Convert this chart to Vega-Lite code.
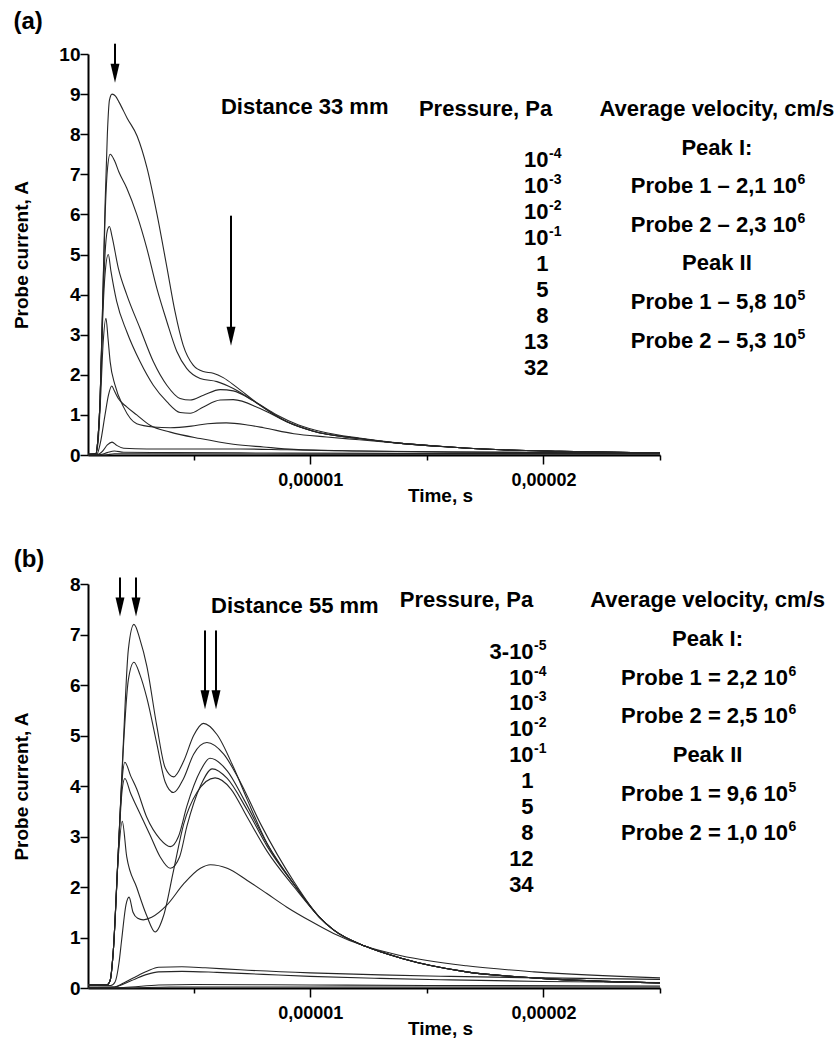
{
  "$schema": "https://vega.github.io/schema/vega-lite/v6.json",
  "padding": {"left": 12, "top": 9, "right": 2, "bottom": 2},
  "spacing": 43,
  "config": {
    "view": {"stroke": null},
    "font": "Liberation Sans",
    "axis": {
      "domainColor": "#000", "domainWidth": 2, "tickColor": "#000", "tickWidth": 1.5,
      "labelFont": "Liberation Sans", "labelFontSize": 18, "labelFontWeight": "bold", "labelColor": "#000",
      "titleFont": "Liberation Sans", "titleFontSize": 19, "titleFontWeight": "bold", "titleColor": "#000",
      "grid": false, "labelOverlap": false, "labelFlush": false
    },
    "text": {"font": "Liberation Sans", "fontWeight": "bold", "fontSize": 22, "color": "#000"}
  },
  "datasets": {
    "curvesA": [
      {"pressure":"1e-4","time":0.47,"current":0.02},{"pressure":"1e-4","time":0.8,"current":0.03},{"pressure":"1e-4","time":0.88,"current":0.3},{"pressure":"1e-4","time":0.99,"current":1.4},{"pressure":"1e-4","time":1.1,"current":3.8},{"pressure":"1e-4","time":1.2,"current":6.2},{"pressure":"1e-4","time":1.3,"current":8.0},{"pressure":"1e-4","time":1.39,"current":8.85},{"pressure":"1e-4","time":1.5,"current":9.0},{"pressure":"1e-4","time":1.65,"current":8.95},{"pressure":"1e-4","time":1.8,"current":8.8},{"pressure":"1e-4","time":2.15,"current":8.4},{"pressure":"1e-4","time":2.58,"current":7.95},{"pressure":"1e-4","time":3.0,"current":7.16},{"pressure":"1e-4","time":3.43,"current":6.0},{"pressure":"1e-4","time":3.86,"current":4.66},{"pressure":"1e-4","time":4.2,"current":3.58},{"pressure":"1e-4","time":4.55,"current":2.74},{"pressure":"1e-4","time":4.98,"current":2.24},{"pressure":"1e-4","time":5.41,"current":2.08},{"pressure":"1e-4","time":5.84,"current":2.04},{"pressure":"1e-4","time":6.27,"current":1.93},{"pressure":"1e-4","time":6.87,"current":1.68},{"pressure":"1e-4","time":7.85,"current":1.24},{"pressure":"1e-4","time":9.0,"current":0.83},{"pressure":"1e-4","time":10.1,"current":0.6},{"pressure":"1e-4","time":12.1,"current":0.41},{"pressure":"1e-4","time":13.9,"current":0.29},{"pressure":"1e-4","time":16,"current":0.2},{"pressure":"1e-4","time":18.2,"current":0.13},{"pressure":"1e-4","time":20.7,"current":0.09},{"pressure":"1e-4","time":25,"current":0.05},
      {"pressure":"1e-3","time":0.47,"current":0.02},{"pressure":"1e-3","time":0.8,"current":0.03},{"pressure":"1e-3","time":0.88,"current":0.3},{"pressure":"1e-3","time":0.99,"current":1.4},{"pressure":"1e-3","time":1.1,"current":3.8},{"pressure":"1e-3","time":1.2,"current":5.9},{"pressure":"1e-3","time":1.3,"current":7.1},{"pressure":"1e-3","time":1.42,"current":7.5},{"pressure":"1e-3","time":1.6,"current":7.35},{"pressure":"1e-3","time":1.8,"current":7.05},{"pressure":"1e-3","time":2.13,"current":6.66},{"pressure":"1e-3","time":2.56,"current":6.0},{"pressure":"1e-3","time":2.99,"current":5.16},{"pressure":"1e-3","time":3.42,"current":4.16},{"pressure":"1e-3","time":3.85,"current":3.33},{"pressure":"1e-3","time":4.28,"current":2.58},{"pressure":"1e-3","time":4.7,"current":2.16},{"pressure":"1e-3","time":5.28,"current":1.91},{"pressure":"1e-3","time":6.0,"current":1.83},{"pressure":"1e-3","time":6.7,"current":1.66},{"pressure":"1e-3","time":7.85,"current":1.24},{"pressure":"1e-3","time":9.0,"current":0.83},{"pressure":"1e-3","time":10.1,"current":0.6},{"pressure":"1e-3","time":12.1,"current":0.41},{"pressure":"1e-3","time":13.9,"current":0.29},{"pressure":"1e-3","time":16,"current":0.2},{"pressure":"1e-3","time":18.2,"current":0.13},{"pressure":"1e-3","time":20.7,"current":0.09},{"pressure":"1e-3","time":25,"current":0.05},
      {"pressure":"1e-2","time":0.47,"current":0.02},{"pressure":"1e-2","time":0.8,"current":0.03},{"pressure":"1e-2","time":0.88,"current":0.3},{"pressure":"1e-2","time":0.99,"current":1.4},{"pressure":"1e-2","time":1.1,"current":3.6},{"pressure":"1e-2","time":1.2,"current":5.0},{"pressure":"1e-2","time":1.3,"current":5.6},{"pressure":"1e-2","time":1.39,"current":5.7},{"pressure":"1e-2","time":1.5,"current":5.45},{"pressure":"1e-2","time":1.77,"current":4.66},{"pressure":"1e-2","time":2.13,"current":4.0},{"pressure":"1e-2","time":2.7,"current":3.16},{"pressure":"1e-2","time":3.27,"current":2.33},{"pressure":"1e-2","time":3.85,"current":1.74},{"pressure":"1e-2","time":4.42,"current":1.41},{"pressure":"1e-2","time":4.85,"current":1.37},{"pressure":"1e-2","time":5.42,"current":1.49},{"pressure":"1e-2","time":6.14,"current":1.63},{"pressure":"1e-2","time":6.7,"current":1.6},{"pressure":"1e-2","time":7.57,"current":1.35},{"pressure":"1e-2","time":8.57,"current":1.0},{"pressure":"1e-2","time":9.5,"current":0.75},{"pressure":"1e-2","time":10.5,"current":0.58},{"pressure":"1e-2","time":12.1,"current":0.42},{"pressure":"1e-2","time":13.9,"current":0.29},{"pressure":"1e-2","time":16,"current":0.2},{"pressure":"1e-2","time":18.2,"current":0.13},{"pressure":"1e-2","time":20.7,"current":0.09},{"pressure":"1e-2","time":25,"current":0.05},
      {"pressure":"1e-1","time":0.47,"current":0.02},{"pressure":"1e-1","time":0.8,"current":0.03},{"pressure":"1e-1","time":0.88,"current":0.3},{"pressure":"1e-1","time":0.99,"current":1.4},{"pressure":"1e-1","time":1.1,"current":3.4},{"pressure":"1e-1","time":1.2,"current":4.5},{"pressure":"1e-1","time":1.34,"current":5.0},{"pressure":"1e-1","time":1.45,"current":4.6},{"pressure":"1e-1","time":1.7,"current":3.83},{"pressure":"1e-1","time":2.13,"current":3.08},{"pressure":"1e-1","time":2.7,"current":2.33},{"pressure":"1e-1","time":3.27,"current":1.74},{"pressure":"1e-1","time":3.85,"current":1.33},{"pressure":"1e-1","time":4.42,"current":1.06},{"pressure":"1e-1","time":4.85,"current":1.04},{"pressure":"1e-1","time":5.42,"current":1.2},{"pressure":"1e-1","time":6.14,"current":1.37},{"pressure":"1e-1","time":6.7,"current":1.38},{"pressure":"1e-1","time":7.85,"current":1.16},{"pressure":"1e-1","time":9.0,"current":0.83},{"pressure":"1e-1","time":10.1,"current":0.6},{"pressure":"1e-1","time":12.1,"current":0.41},{"pressure":"1e-1","time":13.9,"current":0.29},{"pressure":"1e-1","time":16,"current":0.2},{"pressure":"1e-1","time":18.2,"current":0.13},{"pressure":"1e-1","time":20.7,"current":0.09},{"pressure":"1e-1","time":25,"current":0.05},
      {"pressure":"1","time":0.47,"current":0.02},{"pressure":"1","time":0.8,"current":0.03},{"pressure":"1","time":0.9,"current":0.3},{"pressure":"1","time":1.0,"current":1.3},{"pressure":"1","time":1.12,"current":2.8},{"pressure":"1","time":1.24,"current":3.41},{"pressure":"1","time":1.33,"current":2.9},{"pressure":"1","time":1.42,"current":2.33},{"pressure":"1","time":1.63,"current":1.74},{"pressure":"1","time":1.99,"current":1.2},{"pressure":"1","time":2.56,"current":0.78},{"pressure":"1","time":3.27,"current":0.7},{"pressure":"1","time":4.0,"current":0.68},{"pressure":"1","time":4.9,"current":0.72},{"pressure":"1","time":5.6,"current":0.78},{"pressure":"1","time":6.4,"current":0.8},{"pressure":"1","time":7.3,"current":0.75},{"pressure":"1","time":8.0,"current":0.68},{"pressure":"1","time":9.3,"current":0.53},{"pressure":"1","time":10.7,"current":0.45},{"pressure":"1","time":12.1,"current":0.38},{"pressure":"1","time":13.9,"current":0.29},{"pressure":"1","time":16,"current":0.2},{"pressure":"1","time":18.2,"current":0.13},{"pressure":"1","time":20.7,"current":0.09},{"pressure":"1","time":25,"current":0.05},
      {"pressure":"5","time":0.47,"current":0.01},{"pressure":"5","time":0.85,"current":0.02},{"pressure":"5","time":1.0,"current":0.3},{"pressure":"5","time":1.2,"current":1.0},{"pressure":"5","time":1.35,"current":1.5},{"pressure":"5","time":1.49,"current":1.72},{"pressure":"5","time":1.6,"current":1.6},{"pressure":"5","time":1.77,"current":1.41},{"pressure":"5","time":2.13,"current":1.2},{"pressure":"5","time":2.56,"current":1.0},{"pressure":"5","time":3.13,"current":0.74},{"pressure":"5","time":4.0,"current":0.57},{"pressure":"5","time":5.28,"current":0.41},{"pressure":"5","time":6.7,"current":0.27},{"pressure":"5","time":8.0,"current":0.2},{"pressure":"5","time":9.3,"current":0.14},{"pressure":"5","time":12.1,"current":0.1},{"pressure":"5","time":16,"current":0.07},{"pressure":"5","time":20,"current":0.06},{"pressure":"5","time":25,"current":0.05},
      {"pressure":"8","time":0.47,"current":0.01},{"pressure":"8","time":0.9,"current":0.02},{"pressure":"8","time":1.1,"current":0.1},{"pressure":"8","time":1.3,"current":0.25},{"pressure":"8","time":1.5,"current":0.32},{"pressure":"8","time":1.7,"current":0.24},{"pressure":"8","time":2.0,"current":0.17},{"pressure":"8","time":3.0,"current":0.15},{"pressure":"8","time":5.0,"current":0.15},{"pressure":"8","time":7.0,"current":0.15},{"pressure":"8","time":9.0,"current":0.13},{"pressure":"8","time":12,"current":0.1},{"pressure":"8","time":16,"current":0.08},{"pressure":"8","time":20,"current":0.07},{"pressure":"8","time":25,"current":0.06},
      {"pressure":"13","time":0.47,"current":0.0},{"pressure":"13","time":1.0,"current":0.01},{"pressure":"13","time":1.3,"current":0.06},{"pressure":"13","time":1.6,"current":0.1},{"pressure":"13","time":2.0,"current":0.07},{"pressure":"13","time":4,"current":0.06},{"pressure":"13","time":8,"current":0.05},{"pressure":"13","time":14,"current":0.04},{"pressure":"13","time":25,"current":0.04},
      {"pressure":"32","time":0.47,"current":0.0},{"pressure":"32","time":1.2,"current":0.0},{"pressure":"32","time":1.6,"current":0.03},{"pressure":"32","time":3,"current":0.03},{"pressure":"32","time":10,"current":0.02},{"pressure":"32","time":25,"current":0.02}
    ],
    "curvesB": [
      {"pressure":"3e-5","time":0.47,"current":0.07},{"pressure":"3e-5","time":1.3,"current":0.07},{"pressure":"3e-5","time":1.42,"current":0.15},{"pressure":"3e-5","time":1.55,"current":0.7},{"pressure":"3e-5","time":1.77,"current":2.7},{"pressure":"3e-5","time":1.98,"current":4.8},{"pressure":"3e-5","time":2.2,"current":6.7},{"pressure":"3e-5","time":2.44,"current":7.2},{"pressure":"3e-5","time":2.7,"current":6.9},{"pressure":"3e-5","time":2.99,"current":6.38},{"pressure":"3e-5","time":3.42,"current":5.19},{"pressure":"3e-5","time":3.78,"current":4.36},{"pressure":"3e-5","time":4.14,"current":4.18},{"pressure":"3e-5","time":4.57,"current":4.49},{"pressure":"3e-5","time":5.0,"current":5.0},{"pressure":"3e-5","time":5.42,"current":5.24},{"pressure":"3e-5","time":6.0,"current":5.02},{"pressure":"3e-5","time":6.72,"current":4.36},{"pressure":"3e-5","time":7.3,"current":3.73},{"pressure":"3e-5","time":8.16,"current":2.85},{"pressure":"3e-5","time":9.31,"current":2.05},{"pressure":"3e-5","time":10.4,"current":1.4},{"pressure":"3e-5","time":11.0,"current":1.15},{"pressure":"3e-5","time":12.4,"current":0.82},{"pressure":"3e-5","time":13.9,"current":0.59},{"pressure":"3e-5","time":16.7,"current":0.32},{"pressure":"3e-5","time":19.6,"current":0.2},{"pressure":"3e-5","time":25,"current":0.1},
      {"pressure":"1e-4","time":0.47,"current":0.07},{"pressure":"1e-4","time":1.3,"current":0.07},{"pressure":"1e-4","time":1.42,"current":0.15},{"pressure":"1e-4","time":1.55,"current":0.7},{"pressure":"1e-4","time":1.77,"current":2.7},{"pressure":"1e-4","time":1.98,"current":4.7},{"pressure":"1e-4","time":2.2,"current":6.1},{"pressure":"1e-4","time":2.44,"current":6.45},{"pressure":"1e-4","time":2.7,"current":6.2},{"pressure":"1e-4","time":2.99,"current":5.75},{"pressure":"1e-4","time":3.42,"current":4.84},{"pressure":"1e-4","time":3.78,"current":4.08},{"pressure":"1e-4","time":4.14,"current":3.87},{"pressure":"1e-4","time":4.57,"current":4.15},{"pressure":"1e-4","time":5.0,"current":4.63},{"pressure":"1e-4","time":5.57,"current":4.86},{"pressure":"1e-4","time":6.29,"current":4.63},{"pressure":"1e-4","time":7.0,"current":4.08},{"pressure":"1e-4","time":7.87,"current":3.25},{"pressure":"1e-4","time":9.31,"current":2.1},{"pressure":"1e-4","time":10.4,"current":1.4},{"pressure":"1e-4","time":11.0,"current":1.15},{"pressure":"1e-4","time":12.4,"current":0.82},{"pressure":"1e-4","time":13.9,"current":0.59},{"pressure":"1e-4","time":16.7,"current":0.32},{"pressure":"1e-4","time":19.6,"current":0.2},{"pressure":"1e-4","time":25,"current":0.1},
      {"pressure":"1e-3","time":0.47,"current":0.07},{"pressure":"1e-3","time":1.3,"current":0.07},{"pressure":"1e-3","time":1.42,"current":0.15},{"pressure":"1e-3","time":1.55,"current":0.7},{"pressure":"1e-3","time":1.77,"current":2.7},{"pressure":"1e-3","time":1.93,"current":4.1},{"pressure":"1e-3","time":2.05,"current":4.47},{"pressure":"1e-3","time":2.3,"current":4.2},{"pressure":"1e-3","time":2.56,"current":3.94},{"pressure":"1e-3","time":2.99,"current":3.38},{"pressure":"1e-3","time":3.56,"current":2.95},{"pressure":"1e-3","time":4.0,"current":2.8},{"pressure":"1e-3","time":4.35,"current":3.0},{"pressure":"1e-3","time":4.71,"current":3.6},{"pressure":"1e-3","time":5.29,"current":4.3},{"pressure":"1e-3","time":5.7,"current":4.55},{"pressure":"1e-3","time":6.44,"current":4.3},{"pressure":"1e-3","time":7.16,"current":3.73},{"pressure":"1e-3","time":8.16,"current":2.85},{"pressure":"1e-3","time":9.31,"current":2.05},{"pressure":"1e-3","time":10.4,"current":1.4},{"pressure":"1e-3","time":11.0,"current":1.15},{"pressure":"1e-3","time":12.4,"current":0.82},{"pressure":"1e-3","time":13.9,"current":0.59},{"pressure":"1e-3","time":16.7,"current":0.32},{"pressure":"1e-3","time":19.6,"current":0.2},{"pressure":"1e-3","time":25,"current":0.1},
      {"pressure":"1e-2","time":0.47,"current":0.07},{"pressure":"1e-2","time":1.3,"current":0.07},{"pressure":"1e-2","time":1.42,"current":0.15},{"pressure":"1e-2","time":1.55,"current":0.7},{"pressure":"1e-2","time":1.77,"current":2.7},{"pressure":"1e-2","time":1.93,"current":3.9},{"pressure":"1e-2","time":2.05,"current":4.15},{"pressure":"1e-2","time":2.3,"current":3.85},{"pressure":"1e-2","time":2.56,"current":3.59},{"pressure":"1e-2","time":3.13,"current":3.03},{"pressure":"1e-2","time":3.56,"current":2.6},{"pressure":"1e-2","time":4.0,"current":2.37},{"pressure":"1e-2","time":4.4,"current":2.6},{"pressure":"1e-2","time":4.71,"current":3.2},{"pressure":"1e-2","time":5.29,"current":4.0},{"pressure":"1e-2","time":5.8,"current":4.34},{"pressure":"1e-2","time":6.44,"current":4.15},{"pressure":"1e-2","time":7.3,"current":3.52},{"pressure":"1e-2","time":8.16,"current":2.8},{"pressure":"1e-2","time":9.31,"current":2.05},{"pressure":"1e-2","time":10.4,"current":1.4},{"pressure":"1e-2","time":11.0,"current":1.15},{"pressure":"1e-2","time":12.4,"current":0.82},{"pressure":"1e-2","time":13.9,"current":0.59},{"pressure":"1e-2","time":16.7,"current":0.32},{"pressure":"1e-2","time":19.6,"current":0.2},{"pressure":"1e-2","time":25,"current":0.1},
      {"pressure":"1e-1","time":0.47,"current":0.07},{"pressure":"1e-1","time":1.3,"current":0.07},{"pressure":"1e-1","time":1.42,"current":0.15},{"pressure":"1e-1","time":1.55,"current":0.7},{"pressure":"1e-1","time":1.77,"current":2.6},{"pressure":"1e-1","time":1.94,"current":3.3},{"pressure":"1e-1","time":2.13,"current":2.6},{"pressure":"1e-1","time":2.56,"current":1.99},{"pressure":"1e-1","time":2.99,"current":1.43},{"pressure":"1e-1","time":3.35,"current":1.11},{"pressure":"1e-1","time":3.71,"current":1.43},{"pressure":"1e-1","time":4.14,"current":2.33},{"pressure":"1e-1","time":4.57,"current":3.24},{"pressure":"1e-1","time":5.14,"current":3.87},{"pressure":"1e-1","time":5.92,"current":4.16},{"pressure":"1e-1","time":6.6,"current":3.94},{"pressure":"1e-1","time":7.3,"current":3.38},{"pressure":"1e-1","time":8.16,"current":2.7},{"pressure":"1e-1","time":9.31,"current":2.0},{"pressure":"1e-1","time":10.4,"current":1.4},{"pressure":"1e-1","time":11.0,"current":1.15},{"pressure":"1e-1","time":12.4,"current":0.82},{"pressure":"1e-1","time":13.9,"current":0.59},{"pressure":"1e-1","time":16.7,"current":0.32},{"pressure":"1e-1","time":19.6,"current":0.2},{"pressure":"1e-1","time":25,"current":0.1},
      {"pressure":"1","time":0.47,"current":0.05},{"pressure":"1","time":1.45,"current":0.05},{"pressure":"1","time":1.63,"current":0.12},{"pressure":"1","time":1.8,"current":0.5},{"pressure":"1","time":1.91,"current":0.94},{"pressure":"1","time":2.1,"current":1.65},{"pressure":"1","time":2.23,"current":1.8},{"pressure":"1","time":2.4,"current":1.5},{"pressure":"1","time":2.6,"current":1.38},{"pressure":"1","time":2.84,"current":1.35},{"pressure":"1","time":3.2,"current":1.4},{"pressure":"1","time":3.85,"current":1.64},{"pressure":"1","time":4.57,"current":2.06},{"pressure":"1","time":5.29,"current":2.37},{"pressure":"1","time":5.72,"current":2.44},{"pressure":"1","time":6.44,"current":2.37},{"pressure":"1","time":7.3,"current":2.13},{"pressure":"1","time":8.14,"current":1.87},{"pressure":"1","time":9.0,"current":1.6},{"pressure":"1","time":10.03,"current":1.32},{"pressure":"1","time":11.0,"current":1.08},{"pressure":"1","time":12.4,"current":0.82},{"pressure":"1","time":13.9,"current":0.64},{"pressure":"1","time":16.7,"current":0.44},{"pressure":"1","time":19.6,"current":0.32},{"pressure":"1","time":25,"current":0.2},
      {"pressure":"5","time":0.47,"current":0.02},{"pressure":"5","time":1.6,"current":0.02},{"pressure":"5","time":2.0,"current":0.1},{"pressure":"5","time":2.5,"current":0.22},{"pressure":"5","time":3.0,"current":0.33},{"pressure":"5","time":3.5,"current":0.41},{"pressure":"5","time":4.5,"current":0.42},{"pressure":"5","time":5.5,"current":0.4},{"pressure":"5","time":7,"current":0.36},{"pressure":"5","time":10,"current":0.3},{"pressure":"5","time":13,"current":0.26},{"pressure":"5","time":16,"current":0.23},{"pressure":"5","time":20,"current":0.2},{"pressure":"5","time":25,"current":0.17},
      {"pressure":"8","time":0.47,"current":0.01},{"pressure":"8","time":1.6,"current":0.02},{"pressure":"8","time":2.0,"current":0.08},{"pressure":"8","time":2.5,"current":0.18},{"pressure":"8","time":3.0,"current":0.27},{"pressure":"8","time":3.5,"current":0.32},{"pressure":"8","time":4.5,"current":0.33},{"pressure":"8","time":6,"current":0.31},{"pressure":"8","time":8,"current":0.27},{"pressure":"8","time":10,"current":0.23},{"pressure":"8","time":13,"current":0.19},{"pressure":"8","time":16,"current":0.16},{"pressure":"8","time":20,"current":0.13},{"pressure":"8","time":25,"current":0.11},
      {"pressure":"12","time":0.47,"current":0.0},{"pressure":"12","time":2,"current":0.01},{"pressure":"12","time":3.5,"current":0.06},{"pressure":"12","time":5,"current":0.07},{"pressure":"12","time":10,"current":0.06},{"pressure":"12","time":15,"current":0.05},{"pressure":"12","time":25,"current":0.04},
      {"pressure":"34","time":0.47,"current":0.0},{"pressure":"34","time":2,"current":0.0},{"pressure":"34","time":4,"current":0.02},{"pressure":"34","time":10,"current":0.02},{"pressure":"34","time":25,"current":0.02}
    ],
    "notesA": [
      {"group":"panel","text":"(a)","time":-2.1,"current":10.81},
      {"group":"distance","text":"Distance 33 mm","time":6.17,"current":8.68},
      {"group":"heading","text":"Pressure, Pa","time":17.52,"current":8.64},
      {"group":"heading","text":"Average velocity, cm/s","time":27.44,"current":8.64},
      {"group":"heading","text":"Peak I:","time":27.44,"current":7.656},
      {"group":"heading","text":"Peak II","time":27.44,"current":4.776},
      {"group":"entry","text":"Probe 1 – 2,1 10","sup":"6","time":30.88,"current":6.696},
      {"group":"entry","text":"Probe 2 – 2,3 10","sup":"6","time":30.88,"current":5.736},
      {"group":"entry","text":"Probe 1 – 5,8 10","sup":"5","time":30.88,"current":3.815},
      {"group":"entry","text":"Probe 2 – 5,3 10","sup":"5","time":30.88,"current":2.855},
      {"group":"entry","text":"10","sup":"-4","time":20.22,"current":7.357},
      {"group":"entry","text":"10","sup":"-3","time":20.22,"current":6.709},
      {"group":"entry","text":"10","sup":"-2","time":20.22,"current":6.06},
      {"group":"entry","text":"10","sup":"-1","time":20.22,"current":5.412},
      {"group":"entry","text":"1","time":20.22,"current":4.763},
      {"group":"entry","text":"5","time":20.22,"current":4.115},
      {"group":"entry","text":"8","time":20.22,"current":3.466},
      {"group":"entry","text":"13","time":20.22,"current":2.818},
      {"group":"entry","text":"32","time":20.22,"current":2.17}
    ],
    "notesB": [
      {"group":"panel","text":"(b)","time":-2.06,"current":8.47},
      {"group":"distance","text":"Distance 55 mm","time":5.75,"current":7.569},
      {"group":"heading","text":"Pressure, Pa","time":16.7,"current":7.678},
      {"group":"heading","text":"Average velocity, cm/s","time":27.04,"current":7.678},
      {"group":"heading","text":"Peak I:","time":27.04,"current":6.916},
      {"group":"heading","text":"Peak II","time":27.04,"current":4.622},
      {"group":"entry","text":"Probe 1 = 2,2 10","sup":"6","time":30.49,"current":6.145},
      {"group":"entry","text":"Probe 2 = 2,5 10","sup":"6","time":30.49,"current":5.393},
      {"group":"entry","text":"Probe 1 = 9,6 10","sup":"5","time":30.49,"current":3.85},
      {"group":"entry","text":"Probe 2 = 1,0 10","sup":"6","time":30.49,"current":3.079},
      {"group":"entry","text":"3-10","sup":"-5","time":19.58,"current":6.659},
      {"group":"entry","text":"10","sup":"-4","time":19.58,"current":6.147},
      {"group":"entry","text":"10","sup":"-3","time":19.58,"current":5.634},
      {"group":"entry","text":"10","sup":"-2","time":19.58,"current":5.122},
      {"group":"entry","text":"10","sup":"-1","time":19.58,"current":4.61},
      {"group":"entry","text":"1","time":19.58,"current":4.097},
      {"group":"entry","text":"5","time":19.58,"current":3.585},
      {"group":"entry","text":"8","time":19.58,"current":3.073},
      {"group":"entry","text":"12","time":19.58,"current":2.56},
      {"group":"entry","text":"34","time":19.58,"current":2.048}
    ],
    "arrowsA": [
      {"time":1.628,"top":10.257,"head":9.521},
      {"time":6.603,"top":5.968,"head":2.963}
    ],
    "arrowsB": [
      {"time":1.842,"top":8.129,"head":7.545},
      {"time":2.529,"top":8.129,"head":7.545},
      {"time":5.488,"top":7.08,"head":5.706},
      {"time":5.96,"top":7.08,"head":5.706}
    ]
  },
  "vconcat": [
    {
      "width": 572,
      "height": 401,
      "layer": [
        {
          "data": {"name": "curvesA"},
          "mark": {"type": "line", "interpolate": "monotone", "stroke": "#262626", "strokeWidth": 1.1},
          "encoding": {
            "x": {"field": "time", "type": "quantitative", "scale": {"domain": [0.47, 25], "nice": false, "zero": false},
              "axis": {"title": "Time, s", "values": [5, 10, 15, 20, 25],
                "labelExpr": "datum.value == 10 ? '0,00001' : datum.value == 20 ? '0,00002' : ''",
                "tickSize": {"condition": {"test": "datum.value % 10 != 0", "value": 5}, "value": 9},
                "labelPadding": 7, "titlePadding": -3, "titleX": 352}},
            "y": {"field": "current", "type": "quantitative", "scale": {"domain": [0, 10], "nice": false},
              "axis": {"title": "Probe current, A", "values": [0,0.5,1,1.5,2,2.5,3,3.5,4,4.5,5,5.5,6,6.5,7,7.5,8,8.5,9,9.5,10],
                "labelExpr": "datum.value % 1 == 0 ? datum.label : ''",
                "tickSize": {"condition": {"test": "datum.value % 1 != 0", "value": 5}, "value": 8},
                "labelFontSize": 19, "labelPadding": 0, "titlePadding": 27}},
            "detail": {"field": "pressure"}
          }
        },
        {
          "data": {"name": "arrowsA"},
          "mark": {"type": "rule", "strokeWidth": 2, "color": "#000"},
          "encoding": {
            "x": {"field": "time", "type": "quantitative", "scale": {"domain": [0.47, 25], "nice": false, "zero": false}},
            "y": {"field": "top", "type": "quantitative", "scale": {"domain": [0, 10], "nice": false}},
            "y2": {"field": "head"}
          }
        },
        {
          "data": {"name": "arrowsA"},
          "mark": {"type": "point", "shape": "M-0.47,-1L0.47,-1L0,1Z", "size": 361, "filled": true, "color": "#000", "opacity": 1},
          "encoding": {
            "x": {"field": "time", "type": "quantitative", "scale": {"domain": [0.47, 25], "nice": false, "zero": false}},
            "y": {"field": "head", "type": "quantitative", "scale": {"domain": [0, 10], "nice": false}}
          }
        },
        {
          "data": {"name": "notesA"},
          "transform": [{"filter": "datum.group == 'panel'"}],
          "mark": {"type": "text", "fontSize": 24, "align": "center", "baseline": "middle"},
          "encoding": {
            "x": {"field": "time", "type": "quantitative"},
            "y": {"field": "current", "type": "quantitative"},
            "text": {"field": "text"}
          }
        },
        {
          "data": {"name": "notesA"},
          "transform": [{"filter": "datum.group == 'distance'"}],
          "mark": {"type": "text", "align": "left", "baseline": "middle"},
          "encoding": {
            "x": {"field": "time", "type": "quantitative"},
            "y": {"field": "current", "type": "quantitative"},
            "text": {"field": "text"}
          }
        },
        {
          "data": {"name": "notesA"},
          "transform": [{"filter": "datum.group == 'heading'"}],
          "mark": {"type": "text", "align": "center", "baseline": "middle"},
          "encoding": {
            "x": {"field": "time", "type": "quantitative"},
            "y": {"field": "current", "type": "quantitative"},
            "text": {"field": "text"}
          }
        },
        {
          "data": {"name": "notesA"},
          "transform": [{"filter": "datum.group == 'entry'"}],
          "mark": {"type": "text", "align": "right", "baseline": "middle"},
          "encoding": {
            "x": {"field": "time", "type": "quantitative"},
            "y": {"field": "current", "type": "quantitative"},
            "text": {"field": "text"}
          }
        },
        {
          "data": {"name": "notesA"},
          "transform": [{"filter": "datum.group == 'entry' && datum.sup"}],
          "mark": {"type": "text", "align": "left", "baseline": "middle", "fontSize": 14, "dx": 0.5, "dy": -6},
          "encoding": {
            "x": {"field": "time", "type": "quantitative"},
            "y": {"field": "current", "type": "quantitative"},
            "text": {"field": "sup"}
          }
        }
      ]
    },
    {
      "width": 572,
      "height": 404,
      "layer": [
        {
          "data": {"name": "curvesB"},
          "mark": {"type": "line", "interpolate": "monotone", "stroke": "#262626", "strokeWidth": 1.1},
          "encoding": {
            "x": {"field": "time", "type": "quantitative", "scale": {"domain": [0.47, 25], "nice": false, "zero": false},
              "axis": {"title": "Time, s", "values": [5, 10, 15, 20, 25],
                "labelExpr": "datum.value == 10 ? '0,00001' : datum.value == 20 ? '0,00002' : ''",
                "tickSize": {"condition": {"test": "datum.value % 10 != 0", "value": 5}, "value": 9},
                "labelPadding": 7, "titlePadding": -3, "titleX": 352}},
            "y": {"field": "current", "type": "quantitative", "scale": {"domain": [0, 8], "nice": false},
              "axis": {"title": "Probe current, A", "values": [0,0.5,1,1.5,2,2.5,3,3.5,4,4.5,5,5.5,6,6.5,7,7.5,8],
                "labelExpr": "datum.value % 1 == 0 ? datum.label : ''",
                "tickSize": {"condition": {"test": "datum.value % 1 != 0", "value": 5}, "value": 8},
                "labelFontSize": 19, "labelPadding": 0, "titlePadding": 38}},
            "detail": {"field": "pressure"}
          }
        },
        {
          "data": {"name": "arrowsB"},
          "mark": {"type": "rule", "strokeWidth": 2, "color": "#000"},
          "encoding": {
            "x": {"field": "time", "type": "quantitative", "scale": {"domain": [0.47, 25], "nice": false, "zero": false}},
            "y": {"field": "top", "type": "quantitative", "scale": {"domain": [0, 8], "nice": false}},
            "y2": {"field": "head"}
          }
        },
        {
          "data": {"name": "arrowsB"},
          "mark": {"type": "point", "shape": "M-0.47,-1L0.47,-1L0,1Z", "size": 361, "filled": true, "color": "#000", "opacity": 1},
          "encoding": {
            "x": {"field": "time", "type": "quantitative", "scale": {"domain": [0.47, 25], "nice": false, "zero": false}},
            "y": {"field": "head", "type": "quantitative", "scale": {"domain": [0, 8], "nice": false}}
          }
        },
        {
          "data": {"name": "notesB"},
          "transform": [{"filter": "datum.group == 'panel'"}],
          "mark": {"type": "text", "fontSize": 24, "align": "center", "baseline": "middle"},
          "encoding": {
            "x": {"field": "time", "type": "quantitative"},
            "y": {"field": "current", "type": "quantitative"},
            "text": {"field": "text"}
          }
        },
        {
          "data": {"name": "notesB"},
          "transform": [{"filter": "datum.group == 'distance'"}],
          "mark": {"type": "text", "align": "left", "baseline": "middle"},
          "encoding": {
            "x": {"field": "time", "type": "quantitative"},
            "y": {"field": "current", "type": "quantitative"},
            "text": {"field": "text"}
          }
        },
        {
          "data": {"name": "notesB"},
          "transform": [{"filter": "datum.group == 'heading'"}],
          "mark": {"type": "text", "align": "center", "baseline": "middle"},
          "encoding": {
            "x": {"field": "time", "type": "quantitative"},
            "y": {"field": "current", "type": "quantitative"},
            "text": {"field": "text"}
          }
        },
        {
          "data": {"name": "notesB"},
          "transform": [{"filter": "datum.group == 'entry'"}],
          "mark": {"type": "text", "align": "right", "baseline": "middle"},
          "encoding": {
            "x": {"field": "time", "type": "quantitative"},
            "y": {"field": "current", "type": "quantitative"},
            "text": {"field": "text"}
          }
        },
        {
          "data": {"name": "notesB"},
          "transform": [{"filter": "datum.group == 'entry' && datum.sup"}],
          "mark": {"type": "text", "align": "left", "baseline": "middle", "fontSize": 14, "dx": 0.5, "dy": -6},
          "encoding": {
            "x": {"field": "time", "type": "quantitative"},
            "y": {"field": "current", "type": "quantitative"},
            "text": {"field": "sup"}
          }
        }
      ]
    }
  ]
}
